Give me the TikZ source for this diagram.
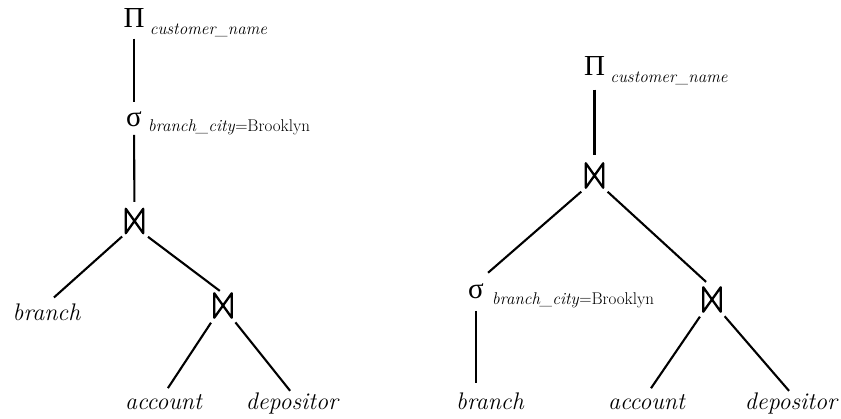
\documentclass[tikz,border=0pt]{standalone}
\usepackage{fontspec}
\newfontfamily\greekfont{Liberation Serif}
\tikzset{
  op/.style={inner sep=0pt, font=\greekfont\fontsize{29}{30}\selectfont},
  sub/.style={inner sep=0pt, anchor=base west, font=\fontsize{17}{18}\selectfont\itshape},
  leaf/.style={inner sep=0pt, anchor=base, font=\fontsize{24}{26}\selectfont\itshape},
  joinop/.style={inner sep=0pt, minimum width=17pt, minimum height=24pt},
  joinsym/.style={line width=2.3pt, line join=round},
  edge/.style={line width=2.1pt},
}
\newcommand{\drawjoin}[1]{\draw[joinsym] (#1.north west) -- (#1.south west) -- (#1.north east) -- (#1.south east) -- cycle;}
\begin{document}
\begin{tikzpicture}[x=1pt,y=-1pt]
\path[use as bounding box] (0,0) rectangle (841,419);
% left tree
\node[op] (p1) at (134,18) {Π};
\node[sub] (p1s) at ([xshift=5pt,yshift=-7pt]p1.base east) {customer\_name};
\node[op] (s1) at (134,119) {σ};
\node[sub] (s1s) at ([xshift=6pt,yshift=-5pt]s1.base east) {branch\_city\textup{=Brooklyn}};
\node[joinop] (j1) at (134.5,221) {};
\drawjoin{j1}
\node[leaf] (b1) at (46.5,321) {branch};
\node[joinop] (j2) at (223,305.5) {};
\drawjoin{j2}
\node[leaf] (a1) at (163.5,410) {account};
\node[leaf] (d1) at (292,410) {depositor};
\draw[edge,shorten <=11pt,shorten >=9pt] (p1) -- (s1);
\draw[edge,shorten <=8pt,shorten >=7pt] (s1) -- (j1);
\draw[edge,shorten <=5pt,shorten >=10pt] (j1.south west) -- (b1.north);
\draw[edge,shorten <=6pt,shorten >=4pt] (j1.south east) -- (j2.north);
\draw[edge,shorten <=6pt,shorten >=8pt] (j2.south west) -- (a1.north);
\draw[edge,shorten <=6pt,shorten >=3pt] (j2.south east) -- (d1.north);
% right tree
\node[op] (p2) at (594.5,66) {Π};
\node[sub] (p2s) at ([xshift=5pt,yshift=-7pt]p2.base east) {customer\_name};
\node[joinop] (j3) at (594.5,175.5) {};
\drawjoin{j3}
\node[op] (s2) at (476,291) {σ};
\node[sub] (s2s) at ([xshift=8pt,yshift=-6pt]s2.base east) {branch\_city\textup{=Brooklyn}};
\node[joinop] (j4) at (712,299.5) {};
\drawjoin{j4}
\node[leaf] (b2) at (490,410) {branch};
\node[leaf] (a2) at (646.5,410) {account};
\node[leaf] (d2) at (791,410) {depositor};
\draw[edge,shorten <=14pt,shorten >=8pt] (p2) -- (j3);
\draw[edge,shorten <=6pt,shorten >=16pt] (j3.south west) -- (s2.north);
\draw[edge,shorten <=6pt,shorten >=8pt] (j3.south east) -- (j4.north);
\draw[edge,shorten <=12pt,shorten >=10pt] (s2.south) -- (s2.south |- b2.north);
\draw[edge,shorten <=6pt,shorten >=8pt] (j4.south west) -- (a2.north);
\draw[edge,shorten <=6pt,shorten >=3pt] (j4.south east) -- (d2.north);
\end{tikzpicture}
\end{document}
